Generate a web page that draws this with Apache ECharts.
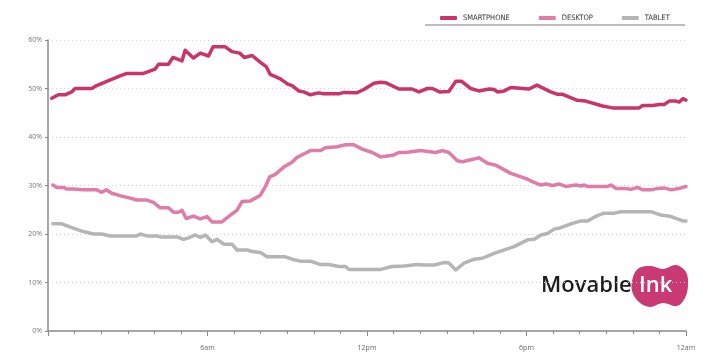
<!DOCTYPE html>
<html>
<head>
<meta charset="utf-8">
<script src="https://cdn.jsdelivr.net/npm/echarts@6/dist/echarts.min.js"></script>
<style>
html,body{margin:0;padding:0;background:#fff;}
#chart{width:720px;height:361px;}
</style>
</head>
<body>
<div id="chart"></div>
<script>
// Hours of the day (0 = midnight) and share of opens (%)
const smartphoneHours = [0.14,0.39,0.64,0.89,1.02,1.65,1.83,2.71,2.97,3.59,4.03,4.16,4.53,4.70,5.04,5.16,5.47,5.73,6.04,6.21,6.67,6.92,7.21,7.39,7.68,7.99,8.21,8.36,8.74,9.02,9.18,9.43,9.62,9.87,10.18,10.37,10.94,11.13,11.61,11.88,12.26,12.51,12.70,13.20,13.70,13.95,14.27,14.46,14.73,15.08,15.34,15.55,15.90,16.21,16.59,16.78,16.91,17.16,17.41,18.10,18.39,18.91,19.17,19.36,19.89,20.23,20.86,21.24,22.24,22.37,22.75,23.00,23.18,23.37,23.63,23.75,23.88,24.00];
const smartphoneShare = [48.0,48.7,48.7,49.3,50.0,50.0,50.6,52.6,53.1,53.1,54.0,55.0,55.0,56.4,55.7,57.9,56.3,57.3,56.7,58.6,58.6,57.6,57.3,56.4,56.8,55.4,54.5,52.9,52.0,50.9,50.6,49.5,49.3,48.7,49.1,48.9,48.9,49.2,49.1,49.8,51.1,51.3,51.2,49.9,49.9,49.3,50.0,50.0,49.3,49.4,51.5,51.5,50.0,49.5,49.9,49.8,49.3,49.5,50.2,49.9,50.7,49.3,48.8,48.8,47.6,47.4,46.4,46.0,46.0,46.5,46.5,46.7,46.7,47.4,47.4,47.2,47.9,47.6];

const desktopHours = [0.18,0.33,0.58,0.70,0.95,1.33,1.83,2.02,2.19,2.40,2.71,3.09,3.34,3.72,3.97,4.22,4.53,4.72,4.91,5.04,5.20,5.47,5.73,5.98,6.17,6.54,6.86,7.11,7.30,7.61,7.80,7.99,8.18,8.34,8.55,8.87,9.18,9.37,9.62,9.87,10.25,10.44,10.88,11.19,11.50,11.82,12.20,12.51,12.76,13.01,13.20,13.45,14.02,14.58,14.83,15.08,15.40,15.59,15.90,16.21,16.53,16.84,17.41,18.04,18.22,18.54,18.73,18.98,19.23,19.48,19.86,20.05,20.17,20.30,21.05,21.18,21.36,21.74,21.93,22.18,22.37,22.68,22.93,23.18,23.44,23.81,24.00];
const desktopShare = [30.1,29.6,29.6,29.3,29.3,29.1,29.1,28.6,29.1,28.4,27.9,27.4,27.0,27.0,26.5,25.4,25.4,24.5,24.5,24.9,23.2,23.7,23.1,23.6,22.5,22.5,23.9,24.9,26.7,26.8,27.4,28.0,29.8,31.8,32.3,33.8,34.8,35.8,36.5,37.2,37.2,37.8,38.0,38.4,38.4,37.5,36.8,35.9,36.1,36.3,36.8,36.8,37.2,36.8,37.2,36.8,35.1,34.9,35.3,35.7,34.6,34.2,32.5,31.3,30.8,30.1,30.3,30.0,30.3,29.8,30.1,29.9,30.1,29.8,29.8,30.1,29.4,29.4,29.2,29.6,29.1,29.1,29.4,29.5,29.1,29.5,29.8];

const tabletHours = [0.18,0.52,0.95,1.33,1.71,2.02,2.34,3.34,3.47,3.72,4.10,4.22,4.85,5.10,5.29,5.54,5.73,5.92,6.17,6.36,6.61,6.92,7.11,7.49,7.68,7.99,8.24,8.93,9.18,9.50,9.87,10.25,10.56,10.94,11.19,11.32,12.51,12.95,13.39,13.89,14.14,14.52,14.89,15.08,15.34,15.65,16.03,16.34,16.78,17.53,18.04,18.29,18.54,18.79,19.04,19.29,19.67,20.05,20.30,20.67,20.92,21.30,21.55,22.68,23.06,23.44,23.88,24.00];
const tabletShare = [22.1,22.1,21.2,20.5,20.0,20.0,19.6,19.6,20.0,19.6,19.6,19.4,19.4,18.9,19.2,19.8,19.3,19.8,18.4,18.9,17.9,17.9,16.7,16.7,16.4,16.2,15.3,15.3,14.8,14.4,14.4,13.7,13.7,13.3,13.3,12.7,12.7,13.3,13.4,13.7,13.6,13.6,14.1,14.0,12.6,14.0,14.8,15.0,16.0,17.4,18.8,18.9,19.8,20.1,21.0,21.3,22.1,22.7,22.7,23.8,24.3,24.3,24.6,24.6,23.9,23.6,22.7,22.7];

const seriesNames = ['SMARTPHONE','DESKTOP','TABLET'];
const seriesColors = ['#cb3369','#e07ca7','#b5b5b5'];
const xTickLabels = {6:'6am',12:'12pm',18:'6pm',24:'12am'};
const yTicks = [0,10,20,30,40,50,60];

function pairs(xs, ys){ return xs.map((x,i)=>[x, ys[i]]); }
const allData = [pairs(smartphoneHours, smartphoneShare), pairs(desktopHours, desktopShare), pairs(tabletHours, tabletShare)];

const chart = echarts.init(document.getElementById('chart'), null, {renderer:'canvas'});
const axisGray = '#8a8a8a';
const blobColor = '#c93a74';
const option = {
  animation:false,
  backgroundColor:'#fff',
  grid:{left:48, right:34, top:40, bottom:30},
  legend:{
    left:435, top:9,
    itemWidth:17, itemHeight:4, itemGap:29,
    icon:'roundRect',
    data:seriesNames,
    textStyle:{fontSize:7.5, color:'#333', fontFamily:'"Liberation Sans Narrow","DejaVu Sans Condensed",sans-serif', padding:[0,0,0,1]}
  },
  xAxis:{
    type:'value', min:0, max:24, interval:6,
    axisLine:{lineStyle:{color:axisGray, width:1.5}},
    axisTick:{show:true, length:5, lineStyle:{color:axisGray, width:1}},
    minorTick:{show:true, splitNumber:6, length:3, lineStyle:{color:axisGray, width:1}},
    splitLine:{show:false},
    axisLabel:{fontSize:7, color:'#666', margin:13, fontFamily:'"Open Sans",sans-serif',
      formatter:(v)=>xTickLabels[v]||''}
  },
  yAxis:{
    type:'value', min:yTicks[0], max:yTicks[yTicks.length-1], interval:10,
    axisLine:{show:true, lineStyle:{color:axisGray, width:1.5}},
    axisTick:{show:true, length:3, lineStyle:{color:axisGray}},
    splitLine:{show:true, lineStyle:{color:'#d8d8d8', type:[1,3], width:1}},
    axisLabel:{fontSize:7, color:'#777', margin:6, fontFamily:'"Open Sans",sans-serif', formatter:'{value}%'}
  },
  series: seriesNames.map((n,i)=>({
    name:n, type:'line', data:allData[i], showSymbol:false, symbol:'none',
    lineStyle:{color:seriesColors[i], width:3.5, cap:'round', join:'round'},
    itemStyle:{color:seriesColors[i]},
    z: 10 - i
  })),
  graphic:[
    {type:'line', shape:{x1:425,y1:25,x2:685,y2:25}, style:{stroke:'#bdbdbd', lineWidth:2}},
    {type:'polygon', shape:{smooth:0.35, points:[[633,277],[639,268],[651,266],[663,269],[676,265],[686,272],[688,285],[685,298],[677,306],[663,303],[650,307],[639,302],[632,291]]}, style:{fill:blobColor}},
    {type:'text', style:{x:541, y:286, text:'Movable', fill:'#1d1d1d', font:'600 22px "Open Sans", sans-serif', verticalAlign:'middle'}},
    {type:'text', style:{x:639, y:286, text:'Ink', fill:'#ffffff', font:'600 22px "Open Sans", sans-serif', verticalAlign:'middle'}}
  ]
};
chart.setOption(option);
</script>
</body>
</html>
